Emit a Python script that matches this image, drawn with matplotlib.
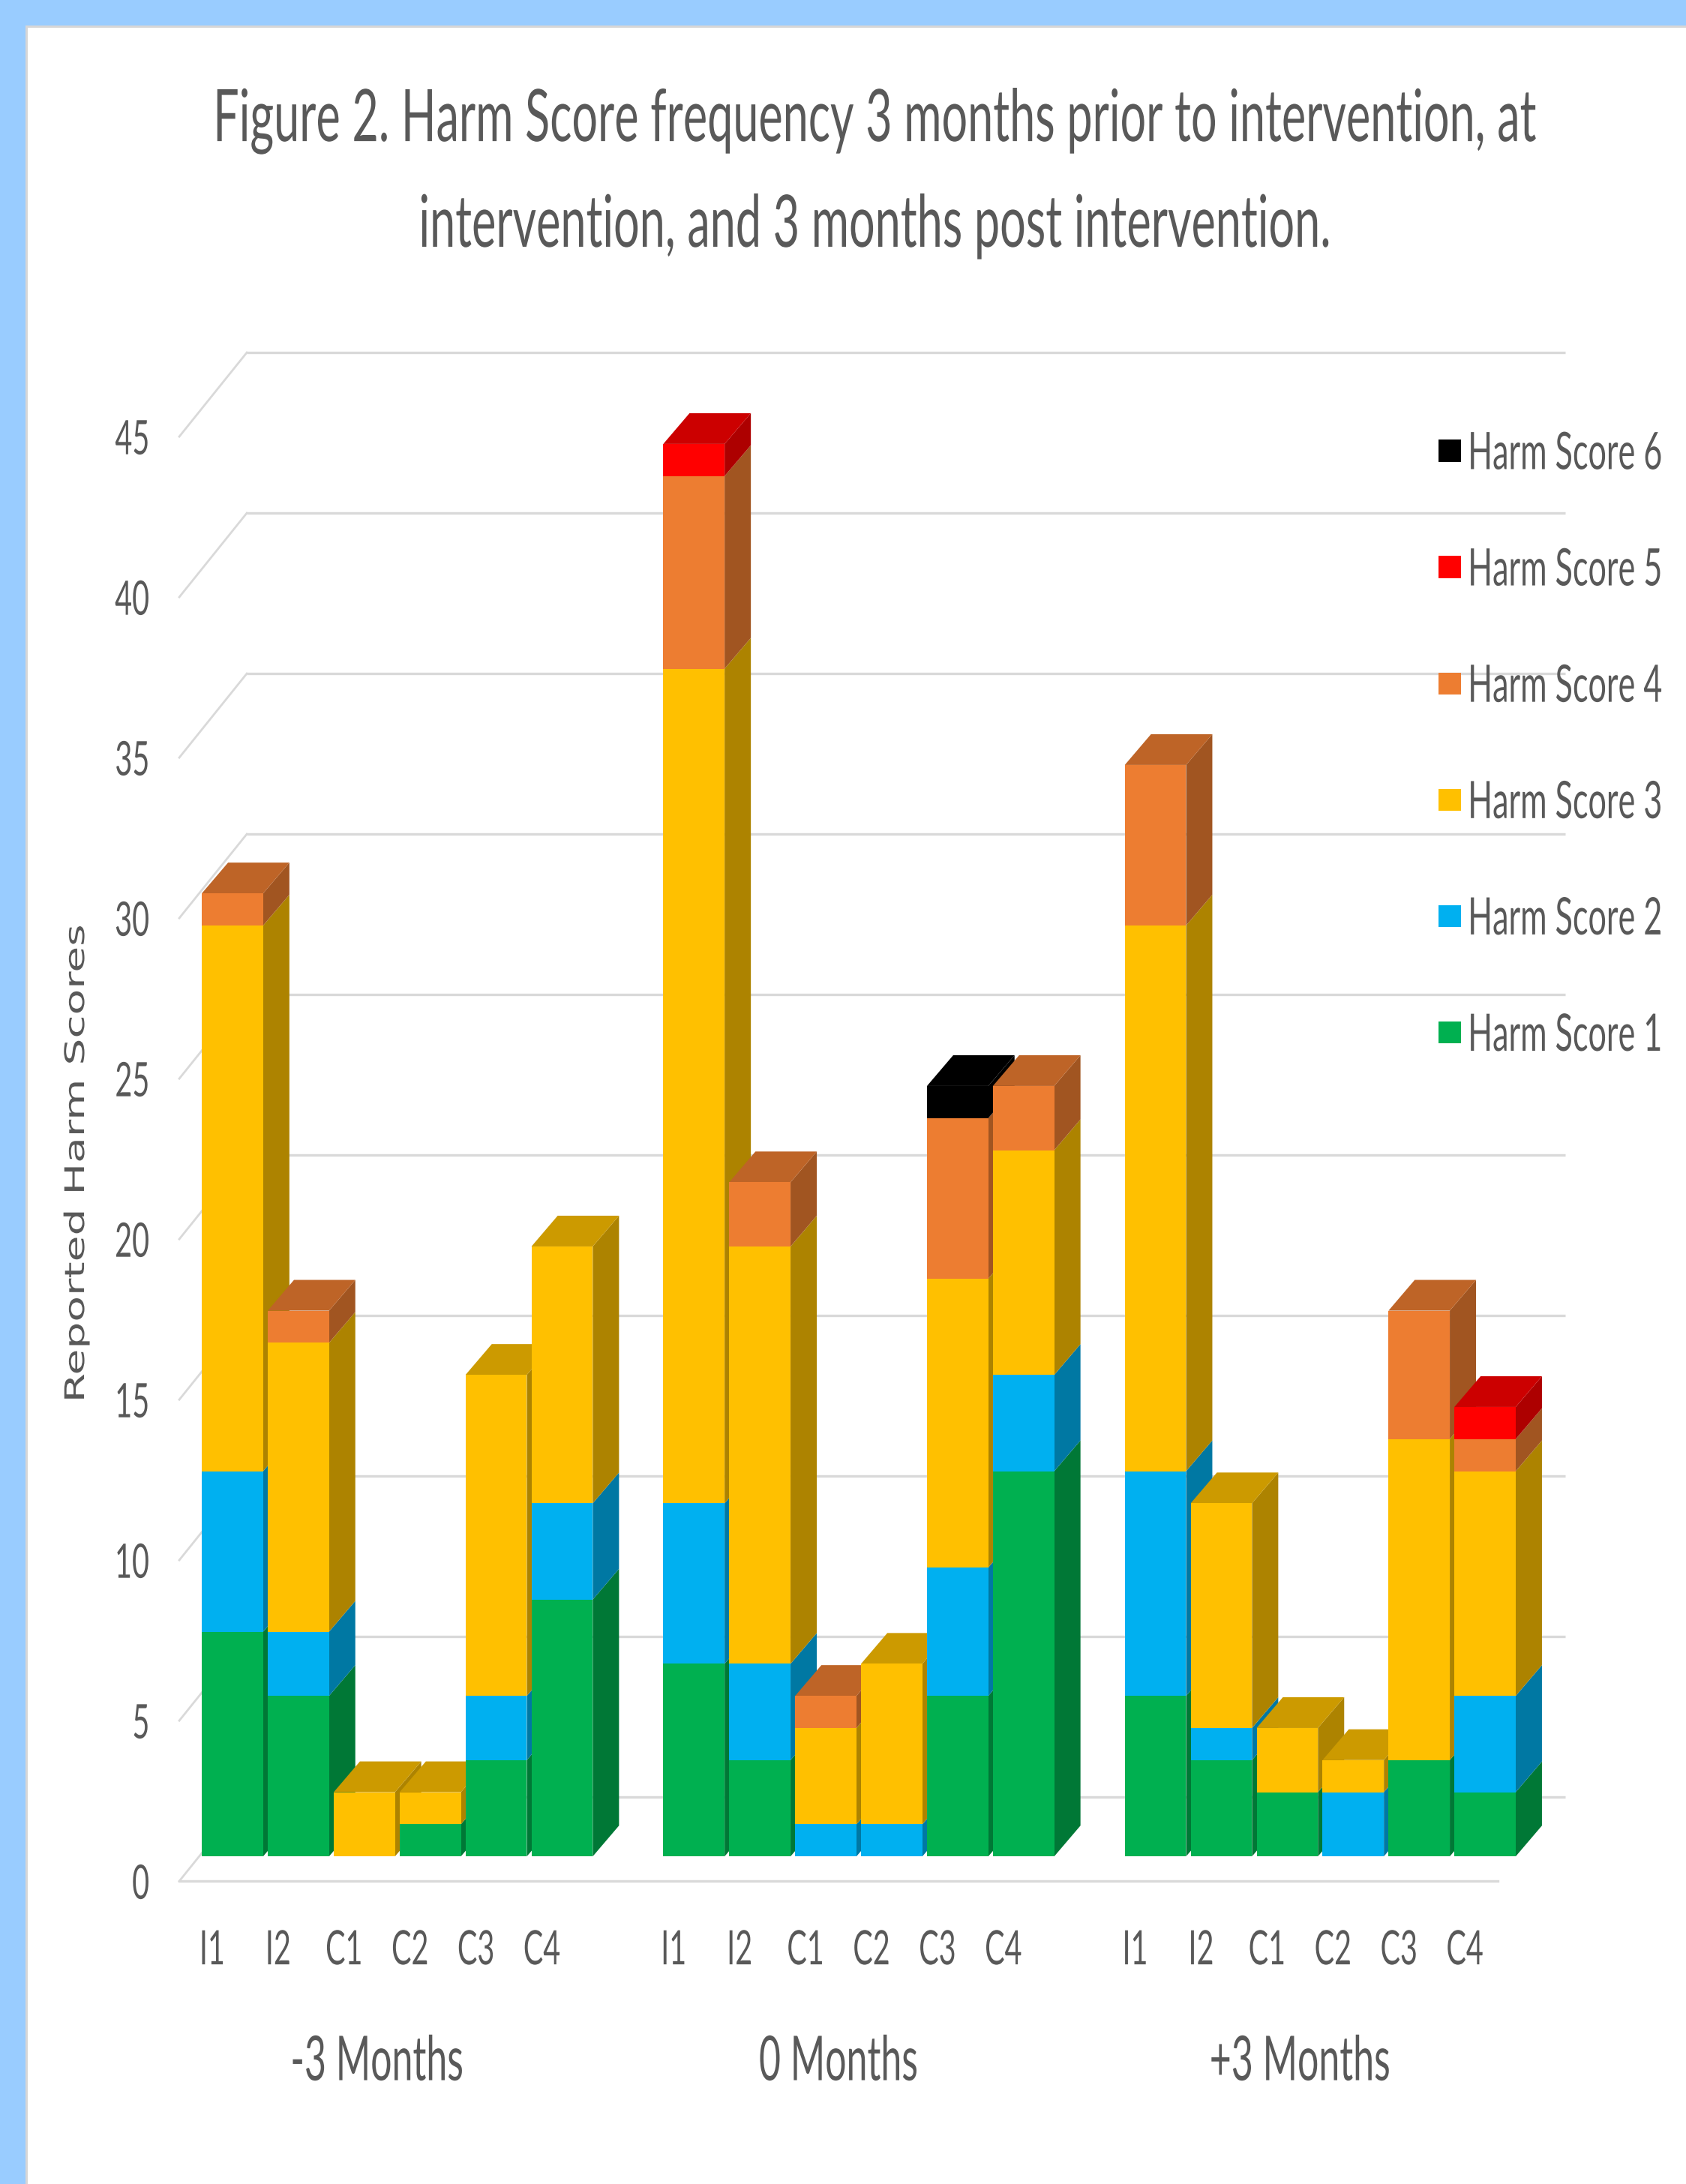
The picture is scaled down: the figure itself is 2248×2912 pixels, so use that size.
import numpy as np
import matplotlib
matplotlib.use("Agg")
import matplotlib.pyplot as plt
from matplotlib.patches import Polygon, Rectangle, Patch
from matplotlib.colors import to_rgb
from matplotlib.patheffects import AbstractPathEffect
from matplotlib.transforms import Affine2D

# --- data -------------------------------------------------------------
periods = ["-3 Months", "0 Months", "+3 Months"]
subjects = ["I1", "I2", "C1", "C2", "C3", "C4"]

score_names = ["Harm Score 1", "Harm Score 2", "Harm Score 3",
               "Harm Score 4", "Harm Score 5", "Harm Score 6"]
score_colors = ["#00B050", "#00B0F0", "#FFC000", "#ED7D31", "#FF0000", "#000000"]

# counts per bar, order: periods x subjects
harm1 = [7, 5, 0, 1, 3, 8, 6, 3, 0, 0, 5, 12, 5, 3, 2, 0, 3, 2]
harm2 = [5, 2, 0, 0, 2, 3, 5, 3, 1, 1, 4, 3, 7, 1, 0, 2, 0, 3]
harm3 = [17, 9, 2, 1, 10, 8, 26, 13, 3, 5, 9, 7, 17, 7, 2, 1, 10, 7]
harm4 = [1, 1, 0, 0, 0, 0, 6, 2, 1, 0, 5, 2, 5, 0, 0, 0, 4, 1]
harm5 = [0, 0, 0, 0, 0, 0, 1, 0, 0, 0, 0, 0, 0, 0, 0, 0, 0, 1]
harm6 = [0, 0, 0, 0, 0, 0, 0, 0, 0, 0, 1, 0, 0, 0, 0, 0, 0, 0]
series = [harm1, harm2, harm3, harm4, harm5, harm6]

yticks = list(range(0, 50, 5))

# --- look -------------------------------------------------------------
FONT = ["Lato", "DejaVu Sans"]
TXT = "#595959"
GRID = "#D9D9D9"
FRAME_BLUE = "#99CCFF"

# oblique depth offsets (x in slots, y in value units)
BAR_OFF = (0.307, 0.771)     # front face of the bars
BAR_DEPTH = (0.398, 0.958)   # front -> back of a bar
WALL_OFF = (1.024, 2.617)    # back wall
BAR_W = 0.93
X0, X1 = -0.5, 19.5          # floor extent


class Stretch(AbstractPathEffect):
    """Scale glyph outlines around the middle of the text (tall, narrow lettering)."""

    def __init__(self, sx=1.0, sy=1.0, cy=36.0):
        super().__init__()
        self.sx, self.sy, self.cy = sx, sy, cy

    def draw_path(self, renderer, gc, tpath, affine, rgbFace=None):
        ext = tpath.get_extents()
        cx = (ext.x0 + ext.x1) / 2
        t = (Affine2D().translate(-cx, -self.cy).scale(self.sx, self.sy)
             .translate(cx, self.cy))
        renderer.draw_path(gc, tpath, t + affine, rgbFace)


TALL = [Stretch(sy=1.6)]


def shade(c, k):
    r, g, b = to_rgb(c)
    return (r * k, g * k, b * k)


fig = plt.figure(figsize=(22.48, 29.12), dpi=100)
fig.patch.set_facecolor("white")

# light blue frame on the left and top
fig.patches.append(Rectangle((0, 0), 34 / 2248, 1, transform=fig.transFigure,
                             facecolor=FRAME_BLUE, edgecolor="none", zorder=0))
fig.patches.append(Rectangle((0, 1 - 34 / 2912), 1, 34 / 2912, transform=fig.transFigure,
                             facecolor=FRAME_BLUE, edgecolor="none", zorder=0))
fig.patches.append(Rectangle((34 / 2248, 0), 3 / 2248, 1 - 34 / 2912, transform=fig.transFigure,
                             facecolor="#D6D6D6", edgecolor="none", zorder=0))
fig.patches.append(Rectangle((34 / 2248, 1 - 37 / 2912), 1, 3 / 2912, transform=fig.transFigure,
                             facecolor="#D6D6D6", edgecolor="none", zorder=0))

ax = fig.add_axes([0.08679, 0.1181, 0.86023, 0.7261])
ax.set_xlim(-1, 21)
ax.set_ylim(-1.4, 48)
for s in ax.spines.values():
    s.set_visible(False)
ax.set_facecolor("none")

# back wall gridlines + side wall slants
wx, wy = WALL_OFF
for v in yticks:
    ax.plot([X0 + wx, X1 + wx], [v + wy, v + wy], color=GRID, lw=2.4,
            zorder=1, clip_on=False, solid_capstyle="butt")
    ax.plot([X0, X0 + wx], [v, v + wy], color=GRID, lw=2.0, zorder=1, clip_on=False)
# floor front edge
ax.plot([X0, X1], [0, 0], color=GRID, lw=2.4, zorder=1, clip_on=False)

# bar slots: 6 per period, one empty slot between periods
slots = np.array([7 * p + j for p in range(len(periods)) for j in range(len(subjects))])
vals = np.array(series, dtype=float)
bottoms = np.vstack([np.zeros(vals.shape[1]), np.cumsum(vals, axis=0)[:-1]])
totals = vals.sum(axis=0)

ox, oy = BAR_OFF
dx, dy = BAR_DEPTH
z = 2
for b in range(len(slots)):
    xc = slots[b] + ox
    xl, xr = xc - BAR_W / 2, xc + BAR_W / 2
    for k in range(len(series)):
        h = vals[k, b]
        if h <= 0:
            continue
        lo = bottoms[k, b] + oy
        hi = lo + h
        col = score_colors[k]
        side = Polygon([(xr, lo), (xr + dx, lo + dy), (xr + dx, hi + dy), (xr, hi)],
                       closed=True, facecolor=shade(col, 0.68), edgecolor="none",
                       zorder=z, clip_on=False)
        ax.add_patch(side)
        if bottoms[k, b] + h == totals[b]:
            top = Polygon([(xl, hi), (xl + dx, hi + dy), (xr + dx, hi + dy), (xr, hi)],
                          closed=True, facecolor=shade(col, 0.80), edgecolor="none",
                          zorder=z, clip_on=False)
            ax.add_patch(top)
        ax.bar(xc, h, width=BAR_W, bottom=lo, color=col, edgecolor="none",
               zorder=z + 0.5, clip_on=False)
    z += 1

# axes ticks
ax.set_yticks(yticks)
ax.set_yticklabels([str(v) for v in yticks])
ax.set_xticks(slots)
ax.set_xticklabels(subjects * len(periods))
ax.tick_params(axis="both", length=0, colors=TXT, labelsize=28.5)
ax.tick_params(axis="y", pad=-3)
ax.tick_params(axis="x", pad=9)
for lab in ax.get_xticklabels() + ax.get_yticklabels():
    lab.set_family(FONT)
    lab.set_path_effects(TALL)

for p, name in enumerate(periods):
    ax.text(7 * p + 2.5, -5.6, name, ha="center", va="center", fontsize=36,
            color=TXT, family=FONT, clip_on=False, path_effects=[Stretch(sy=1.65)])

fig.text(0.0454, 0.4674, "Reported Harm Scores", rotation=90, ha="center",
         va="center", fontsize=26, color=TXT, family="DejaVu Sans",
         path_effects=[Stretch(sx=1.57, cy=30)])

title_lines = ["Figure 2. Harm Score frequency 3 months prior to intervention, at",
               "intervention, and 3 months post intervention."]
for i, line in enumerate(title_lines):
    fig.text(0.519, 0.9457 - 0.0483 * i, line, ha="center", va="center",
             fontsize=44, color=TXT, family=FONT, path_effects=[Stretch(sy=1.58)])

handles = [Patch(facecolor=c, edgecolor="none", label=n)
           for n, c in zip(score_names, score_colors)][::-1]
leg = ax.legend(handles=handles, loc="upper left", bbox_to_anchor=(0.840, 0.8094),
                bbox_transform=fig.transFigure, frameon=False, fontsize=31,
                handlelength=0.68, handleheight=0.68, handletextpad=0.22,
                labelspacing=2.72, borderpad=0.2)
for t in leg.get_texts():
    t.set_color(TXT)
    t.set_family(FONT)
    t.set_path_effects(TALL)

fig.savefig("out.png", dpi=100, facecolor="white")
